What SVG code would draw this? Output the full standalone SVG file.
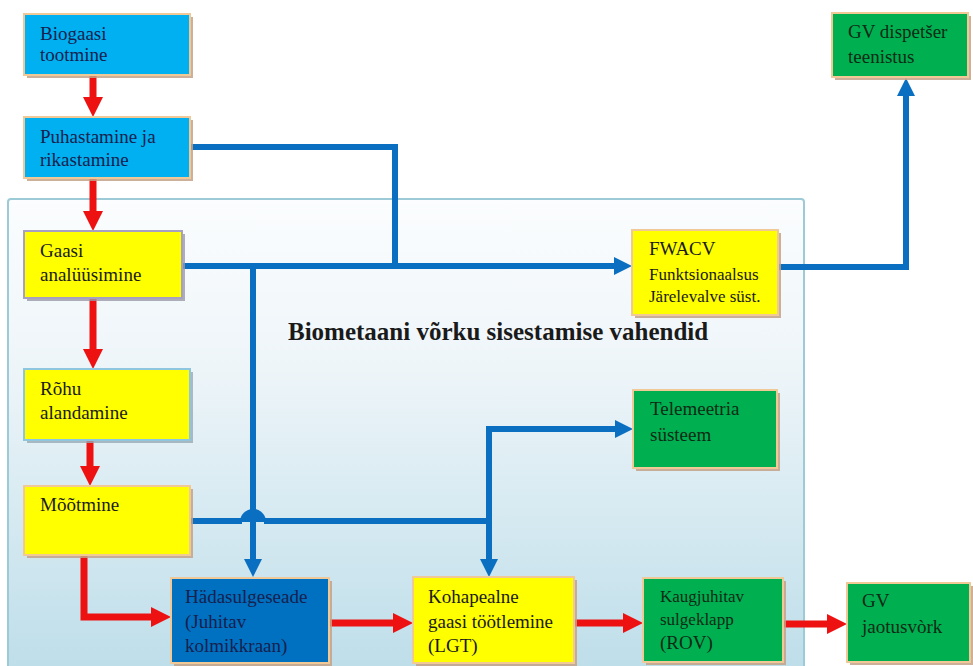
<svg xmlns="http://www.w3.org/2000/svg" width="973" height="666" viewBox="0 0 973 666">
<defs>
<linearGradient id="panelGrad" x1="0" y1="0" x2="0" y2="1">
<stop offset="0" stop-color="#fbfdfe"/>
<stop offset="0.35" stop-color="#eef5f9"/>
<stop offset="1" stop-color="#bcdde9"/>
</linearGradient>
<marker id="redHead" markerUnits="userSpaceOnUse" markerWidth="22" markerHeight="22" refX="1" refY="10" orient="auto">
<path d="M0,0 L20,10 L0,20 z" fill="#ee1111"/>
</marker>
<marker id="blueHead" markerUnits="userSpaceOnUse" markerWidth="20" markerHeight="20" refX="1" refY="9" orient="auto">
<path d="M0,0 L18,9 L0,18 z" fill="#0a6fc0"/>
</marker>
</defs>
<style>
.shadow{fill:#c4a287;opacity:0.85}
.box{stroke:#f0c996;stroke-width:2}
.sky{fill:#00b0f0}
.yel{fill:#ffff00}
.grn{fill:#00b050}
.dblue{fill:#0070c0}
.t{font-family:"Liberation Serif","Times New Roman",serif;font-size:19px;fill:#1a1a1a}
.tn{fill:#17204e}
.tg{fill:#0c2a14}
.ts{font-size:17px}
.title{font-family:"Liberation Serif","Times New Roman",serif;font-size:25px;font-weight:bold;fill:#1a1a1a}
.red{fill:none;stroke:#ee1111;stroke-width:7;marker-end:url(#redHead)}
.blue{fill:none;stroke:#0a6fc0;stroke-width:6}
.bluea{fill:none;stroke:#0a6fc0;stroke-width:6;marker-end:url(#blueHead)}
</style>

<g id="panel">
<rect x="8" y="199" width="796" height="480" rx="3" fill="url(#panelGrad)" stroke="#9ccad6" stroke-width="2"/>
<text class="title" x="288" y="340">Biometaani võrku sisestamise vahendid</text>
</g>

<g id="connectors">
<path class="red" d="M93,76 V98"/>
<path class="red" d="M93,178 V212"/>
<path class="red" d="M93,298 V350"/>
<path class="red" d="M90,441 V467"/>
<path class="red" d="M84,556 V617 H152"/>
<path class="red" d="M329,623 H394"/>
<path class="red" d="M574,623 H624"/>
<path class="red" d="M783,624 H828"/>
<path class="blue" d="M190,147 H395 V266"/>
<path class="bluea" d="M182,266 H615"/>
<path class="blue" d="M190,521 H242 M264,521 H489"/>
<path d="M240,522 A13,13 0 0 1 266,522 Z" fill="#0a6fc0"/>
<path class="bluea" d="M253,266 V560"/>
<path class="bluea" d="M489,429 V560"/>
<path class="bluea" d="M486,429 H616"/>
<path class="bluea" d="M778,267 H906 V95"/>
</g>

<g id="biogaasi">
<rect class="shadow" x="27" y="17" width="166" height="61"/>
<rect class="box sky" x="24" y="14" width="166" height="61"/>
<text class="t tn" x="40" y="40">Biogaasi</text>
<text class="t tn" x="40" y="61">tootmine</text>
</g>

<g id="puhastamine">
<rect class="shadow" x="27" y="120" width="166" height="61"/>
<rect class="box sky" x="24" y="117" width="166" height="61"/>
<text class="t tn" x="40" y="143">Puhastamine ja</text>
<text class="t tn" x="40" y="166">rikastamine</text>
</g>

<g id="gaasi">
<rect x="27" y="234" width="158" height="67" fill="#9a9aa8" opacity="0.8"/>
<rect class="yel" x="24" y="231" width="158" height="67" stroke="#a8a0c0" stroke-width="2"/>
<text class="t" x="40" y="257">Gaasi</text>
<text class="t" x="40" y="281">analüüsimine</text>
</g>

<g id="rohu">
<rect x="27" y="372" width="166" height="71" fill="#9aaab4" opacity="0.8"/>
<rect class="yel" x="24" y="369" width="166" height="71" stroke="#8ec6e0" stroke-width="2"/>
<text class="t" x="40" y="395">Rõhu</text>
<text class="t" x="40" y="419">alandamine</text>
</g>

<g id="mootmine">
<rect class="shadow" x="27" y="489" width="166" height="69"/>
<rect class="box yel" x="24" y="486" width="166" height="69"/>
<text class="t" x="40" y="511">Mõõtmine</text>
</g>

<g id="hadasulgeseade">
<rect class="shadow" x="174" y="581" width="158" height="85"/>
<rect class="box dblue" x="171" y="578" width="158" height="85"/>
<text class="t tn" x="185" y="603">Hädasulgeseade</text>
<text class="t tn" x="185" y="628">(Juhitav</text>
<text class="t tn" x="185" y="652">kolmikkraan)</text>
</g>

<g id="kohapealne">
<rect class="shadow" x="416" y="580" width="161" height="86"/>
<rect class="box yel" x="413" y="577" width="161" height="86"/>
<text class="t" x="428" y="603">Kohapealne</text>
<text class="t" x="428" y="628">gaasi töötlemine</text>
<text class="t" x="428" y="652">(LGT)</text>
</g>

<g id="kaugjuhitav">
<rect class="shadow" x="646" y="581" width="140" height="84"/>
<rect class="box grn" x="643" y="578" width="140" height="84"/>
<text class="t tg ts" x="660" y="602">Kaugjuhitav</text>
<text class="t tg ts" x="660" y="625">sulgeklapp</text>
<text class="t tg" x="660" y="649">(ROV)</text>
</g>

<g id="gvjaotusvork">
<rect class="shadow" x="850" y="586" width="123" height="79"/>
<rect class="box grn" x="847" y="583" width="123" height="79"/>
<text class="t tg" x="862" y="607">GV</text>
<text class="t tg" x="862" y="633">jaotusvòrk</text>
</g>

<g id="fwacv">
<rect class="shadow" x="635" y="233" width="146" height="85"/>
<rect class="box yel" x="632" y="230" width="146" height="85"/>
<text class="t" x="649" y="255">FWACV</text>
<text class="t ts" x="649" y="280">Funktsionaalsus</text>
<text class="t ts" x="649" y="302">Järelevalve süst.</text>
</g>

<g id="telemeetria">
<rect class="shadow" x="636" y="393" width="144" height="78"/>
<rect class="box grn" x="633" y="390" width="144" height="78"/>
<text class="t tg" x="650" y="415">Telemeetria</text>
<text class="t tg" x="650" y="441">süsteem</text>
</g>

<g id="gvdispetser">
<rect class="shadow" x="835" y="16" width="136" height="64"/>
<rect class="box grn" x="832" y="13" width="136" height="64"/>
<text class="t tg" x="848" y="38">GV dispetšer</text>
<text class="t tg" x="848" y="63">teenistus</text>
</g>
</svg>
